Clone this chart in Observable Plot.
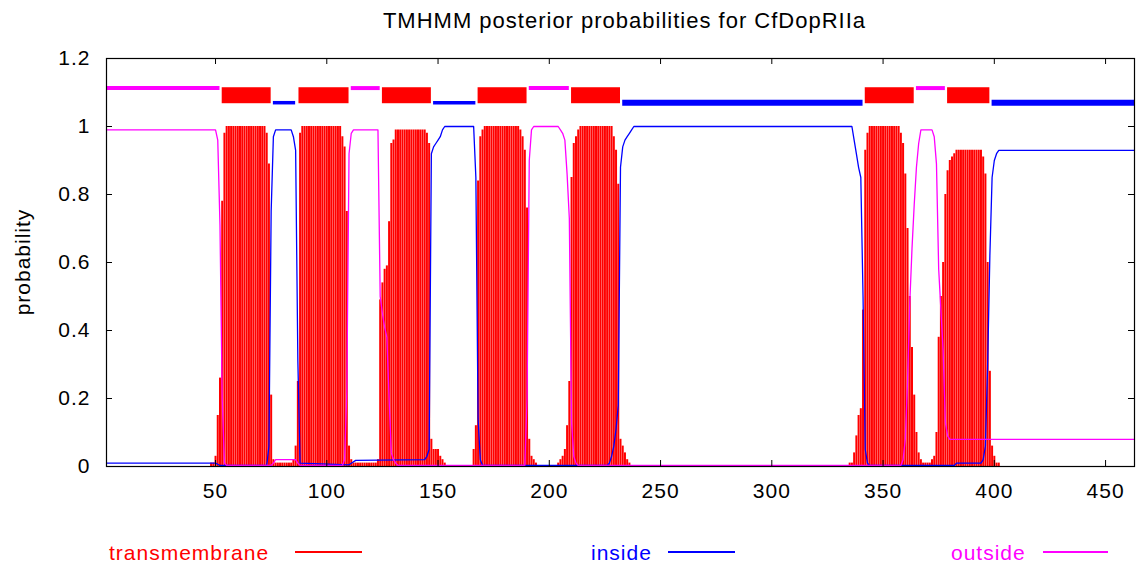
<!DOCTYPE html>
<html><head><meta charset="utf-8">
<script src="https://cdn.jsdelivr.net/npm/d3@7"></script>
<script src="https://cdn.jsdelivr.net/npm/@observablehq/plot@0.6"></script>
<style>
body{margin:0;background:#fff;}
#wrap{position:relative;width:1137px;height:568px;font-family:"Liberation Sans",Arial,sans-serif;overflow:hidden;background:#fff;}
#wrap svg{position:absolute;left:0;top:0;}
.t{position:absolute;white-space:nowrap;line-height:1;letter-spacing:1px;}
.ln{position:absolute;height:1.5px;}
</style></head><body>
<div id="wrap">
  <div class="t" style="left:624.5px;top:9.7px;font-size:22px;transform:translateX(-50%);color:#000">TMHMM posterior probabilities for CfDopRIIa</div>
  <div class="t" style="left:22px;top:262px;font-size:21px;transform:translate(-50%,-50%) rotate(-90deg);color:#000">probability</div>
  <div class="t" style="left:109px;top:542px;font-size:21px;color:#ff0000">transmembrane</div>
  <div class="ln" style="left:295px;top:551px;width:67px;background:#ff0000"></div>
  <div class="t" style="left:591px;top:542px;font-size:21px;color:#0000ff">inside</div>
  <div class="ln" style="left:668px;top:551px;width:67px;background:#0000ff"></div>
  <div class="t" style="left:951px;top:542px;font-size:21px;color:#ff00ff">outside</div>
  <div class="ln" style="left:1043px;top:551px;width:65px;background:#ff00ff"></div>
</div>
<script>
// ---- tick values ----
const xTicks = [50, 100, 150, 200, 250, 300, 350, 400, 450];
const yTicks = [0, 0.2, 0.4, 0.6, 0.8, 1, 1.2];

// ---- predicted topology (residue ranges) ----
const topoType  = ["outside","TM","inside","TM","outside","TM","inside","TM","outside","TM","inside","TM","outside","TM","inside"];
const topoStart = [1, 53, 76, 87.5, 111, 125, 148, 168, 191, 210, 233, 342, 365, 379, 399];
const topoEnd   = [52, 75, 86, 110, 124, 147, 167, 190, 209, 232, 341, 364, 378, 398, 463];

// ---- transmembrane probability per residue (runs) ----
const tmRunStart = [48, 335];
const tmRunA = [
  0.01, 0.01, 0.03, 0.15, 0.26, 0.78, 0.98,
  1, 1, 1, 1, 1, 1, 1, 1, 1, 1, 1, 1, 1, 1, 1, 1, 1, 1,
  0.98, 0.89, 0.21, 0.02,
  0.01, 0.01, 0.01, 0.01, 0.01, 0.01, 0.01, 0.01,
  0.02, 0.06, 0.25, 0.98,
  1, 1, 1, 1, 1, 1, 1, 1, 1, 1, 1, 1, 1, 1, 1, 1, 1, 1,
  0.97, 0.94, 0.75, 0.06, 0.02,
  0.01, 0.01, 0.01, 0.01, 0.01, 0.01, 0.01, 0.01, 0.01, 0.01, 0.01,
  0.02, 0.49, 0.54, 0.58, 0.59, 0.72, 0.95, 0.96, 0.99,
  0.99, 0.99, 0.99, 0.99, 0.99, 0.99, 0.99, 0.99, 0.99, 0.99, 0.99, 0.99, 0.99,
  0.98, 0.95, 0.08, 0.05, 0.05, 0.05, 0.03, 0.02, 0.01,
  0, 0, 0, 0, 0, 0, 0, 0, 0, 0, 0, 0,
  0.05, 0.12, 0.84, 0.97, 0.99,
  1, 1, 1, 1, 1, 1, 1, 1, 1, 1, 1, 1, 1, 1, 1, 1,
  0.99, 0.97, 0.93, 0.76, 0.08, 0.03, 0.02, 0.01,
  0, 0, 0, 0, 0, 0, 0, 0, 0,
  0.01, 0.02, 0.03, 0.05, 0.12, 0.25, 0.85, 0.95, 0.97, 0.99,
  1, 1, 1, 1, 1, 1, 1, 1, 1, 1, 1, 1, 1, 1, 1,
  0.97, 0.93, 0.83, 0.08, 0.06, 0.04, 0.02, 0.01
];
const tmRunB = [
  0.01, 0.01, 0.04, 0.09, 0.15, 0.17, 0.46, 0.93, 0.98,
  1, 1, 1, 1, 1, 1, 1, 1, 1, 1, 1, 1, 1, 1,
  0.98, 0.95, 0.86, 0.7, 0.5, 0.35, 0.21, 0.1, 0.04, 0.02, 0.01, 0.01, 0.01, 0.01, 0.02, 0.03,
  0.1, 0.38, 0.5, 0.6, 0.8, 0.87, 0.9, 0.91, 0.92,
  0.93, 0.93, 0.93, 0.93, 0.93, 0.93, 0.93, 0.93, 0.93, 0.93, 0.93, 0.93,
  0.91, 0.86, 0.6, 0.28, 0.06, 0.03, 0.01, 0.01
];

// ---- inside probability (residue, value) ----
const insidePos  = [1, 50, 52, 73, 74, 75, 76, 77, 84, 85, 86, 87, 88, 110, 113, 144, 145, 146, 147, 148, 149, 150, 151, 152, 153, 166, 167, 168, 169, 170, 226, 227, 228, 229, 230, 231, 232, 233, 234, 235, 236, 237, 238, 336, 337, 338, 339, 340, 341, 342, 343, 344, 382, 383, 394, 395, 396, 397, 398, 399, 400, 401, 402, 463];
const insideProb = [0.01, 0.01, 0.003, 0.003, 0.06, 0.75, 0.97, 0.99, 0.99, 0.97, 0.93, 0.31, 0.01, 0.005, 0.018, 0.02, 0.03, 0.05, 0.92, 0.94, 0.95, 0.96, 0.97, 0.99, 1, 1, 0.85, 0.14, 0.02, 0.003, 0.003, 0.01, 0.03, 0.06, 0.11, 0.18, 0.88, 0.94, 0.96, 0.97, 0.98, 0.99, 1, 1, 0.96, 0.92, 0.88, 0.85, 0.5, 0.05, 0.01, 0.003, 0.003, 0.01, 0.01, 0.02, 0.06, 0.3, 0.62, 0.85, 0.9, 0.92, 0.93, 0.93];

// ---- outside probability (residue, value) ----
const outsidePos  = [1, 50, 51, 52, 53, 54, 55, 75, 76, 77, 86, 87, 88, 107, 108, 109, 110, 111, 112, 123, 124, 125, 126, 127, 128, 129, 130, 131, 132, 189, 190, 191, 192, 193, 204, 205, 206, 207, 208, 209, 210, 211, 212, 213, 358, 359, 360, 361, 362, 363, 364, 365, 366, 367, 372, 373, 374, 375, 376, 377, 378, 379, 380, 463];
const outsideProb = [0.99, 0.99, 0.96, 0.71, 0.2, 0.01, 0.003, 0.003, 0.01, 0.02, 0.02, 0.01, 0.003, 0.003, 0.02, 0.22, 0.92, 0.98, 0.99, 0.99, 0.5, 0.45, 0.41, 0.38, 0.2, 0.04, 0.02, 0.01, 0.003, 0.003, 0.2, 0.9, 0.99, 1, 1, 0.99, 0.98, 0.96, 0.86, 0.73, 0.13, 0.03, 0.01, 0.003, 0.003, 0.02, 0.08, 0.25, 0.48, 0.64, 0.77, 0.88, 0.95, 0.99, 0.99, 0.97, 0.89, 0.58, 0.46, 0.34, 0.13, 0.09, 0.08, 0.08];

// ---- build tables ----
const tmRuns = [tmRunA, tmRunB];
const tmData = [];
tmRunStart.forEach((s, k) => tmRuns[k].forEach((p, i) => { if (p > 0) tmData.push({pos: s + i, p}); }));
const insideData = insidePos.map((x, i) => ({x, y: insideProb[i]}));
const outsideData = outsidePos.map((x, i) => ({x, y: outsideProb[i]}));
const topo = topoType.map((type, i) => ({type, start: topoStart[i], end: topoEnd[i]}));

const W = 1137, H = 568, mL = 106, mR = 3, mT = 58, mB = 102;
const innerW = W - mL - mR, innerH = H - mT - mB, tick = 6;

const chart = Plot.plot({
  width: W, height: H,
  marginLeft: mL, marginRight: mR, marginTop: mT, marginBottom: mB,
  style: {fontFamily: '"Liberation Sans", Arial, sans-serif', fontSize: "21px", background: "white", color: "black", letterSpacing: "1px"},
  x: {domain: [1, 463]},
  y: {domain: [0, 1.2]},
  marks: [
    Plot.ruleX(tmData, {x: "pos", y1: 0, y2: "p", stroke: "#ff0000", strokeWidth: 2}),
    Plot.line(insideData, {x: "x", y: "y", stroke: "#0000ff", strokeWidth: 1.3}),
    Plot.line(outsideData, {x: "x", y: "y", stroke: "#ff00ff", strokeWidth: 1.3}),
    Plot.rect(topo.filter(d => d.type === "TM"), {x1: "start", x2: "end", y1: () => 1.067, y2: () => 1.114, fill: "#ff0000"}),
    Plot.ruleY(topo.filter(d => d.type === "inside"), {y: () => 1.07, x1: "start", x2: "end", stroke: "#0000ff", strokeWidth: d => (d.end - d.start > 50 ? 6 : 3.5)}),
    Plot.ruleY(topo.filter(d => d.type === "outside"), {y: () => 1.113, x1: "start", x2: "end", stroke: "#ff00ff", strokeWidth: 4}),
    Plot.frame({stroke: "black", strokeWidth: 1.2}),
    Plot.ruleX(xTicks, {x: d => d, insetTop: innerH - tick, stroke: "black"}),
    Plot.ruleX(xTicks, {x: d => d, insetBottom: innerH - tick, stroke: "black"}),
    Plot.ruleY(yTicks, {y: d => d, insetRight: innerW - tick, stroke: "black"}),
    Plot.ruleY(yTicks, {y: d => d, insetLeft: innerW - tick, stroke: "black"}),
    Plot.axisX({ticks: xTicks, tickSize: 0, tickPadding: 17, label: null, tickFormat: d => String(d)}),
    Plot.axisY({ticks: yTicks, tickSize: 0, tickPadding: 16, label: null, tickFormat: d => String(d)})
  ]
});
document.getElementById("wrap").prepend(chart);
</script>
</body></html>
